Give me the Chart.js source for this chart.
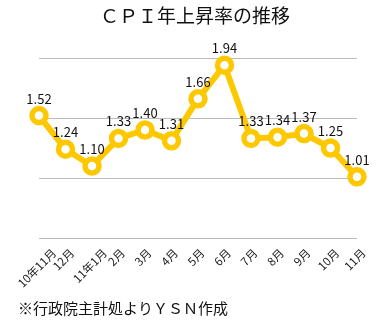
<!DOCTYPE html>
<html><head><meta charset="utf-8">
<script src="https://cdn.jsdelivr.net/npm/chart.js@4"></script>
<style>html,body{margin:0;padding:0;background:#fff}#wrap{width:391px;height:322px}</style>
</head><body><div id="wrap"><canvas id="c"></canvas></div>
<script>
const categories = ["10年11月","12月","11年1月","2月","3月","4月","5月","6月","7月","8月","9月","10月","11月"];
const cpiValues = [1.52,1.24,1.10,1.33,1.40,1.31,1.66,1.94,1.33,1.34,1.37,1.25,1.01];
const yTicks = [0.5,1.0,1.5,2.0];
const titleText = "ＣＰＩ年上昇率の推移";
const footerText = "※行政院主計処よりＹＳＮ作成";

const FONT = "'Noto Sans CJK JP', 'Noto Sans', sans-serif";
const gold = "#FDC800";

const decorations = {
  id: 'decorations',
  afterDraw(chart) {
    const ctx = chart.ctx;
    ctx.save();
    ctx.fillStyle = "#111";
    ctx.textBaseline = "middle";
    ctx.font = "19px " + FONT;
    ctx.textAlign = "center";
    ctx.fillText(titleText, 195, 16);
    ctx.font = "15px " + FONT;
    ctx.textAlign = "left";
    ctx.fillText(footerText, 18, 308);
    // rotated category labels, centred under their ticks
    const xs = chart.scales.x;
    ctx.font = "11.5px " + FONT;
    ctx.fillStyle = "#222";
    ctx.textAlign = "center";
    categories.forEach((lab, i) => {
      const x = xs.getPixelForTick(i);
      const w = ctx.measureText(lab).width;
      const cy = chart.chartArea.bottom + 9 + (w + 11) * 0.7071 / 2;
      ctx.save();
      ctx.translate(x - 2, cy);
      ctx.rotate(-Math.PI / 4);
      ctx.fillText(lab, 0, 0);
      ctx.restore();
    });
    ctx.restore();
  },
  afterDatasetsDraw(chart) {
    const ctx = chart.ctx;
    const meta = chart.getDatasetMeta(0);
    ctx.save();
    ctx.font = "13px " + FONT;
    ctx.fillStyle = "#111";
    ctx.textAlign = "center";
    ctx.textBaseline = "middle";
    meta.data.forEach((pt, i) => {
      ctx.fillText(cpiValues[i].toFixed(2), pt.x, pt.y - 17);
    });
    ctx.restore();
  }
};

new Chart(document.getElementById('c'), {
  type: 'line',
  data: {
    labels: categories,
    datasets: [{
      data: cpiValues,
      borderColor: gold,
      borderWidth: 6,
      pointRadius: 7,
      pointBorderWidth: 5.5,
      pointBackgroundColor: "#fff",
      pointBorderColor: gold,
      tension: 0,
      clip: false
    }]
  },
  options: {
    responsive: true,
    maintainAspectRatio: false,
    animation: false,
    layout: { padding: { left: 4, right: 34, top: 58, bottom: 0 } },
    plugins: {
      legend: { display: false },
      tooltip: { enabled: false },
      title: { display: false }
    },
    scales: {
      x: {
        offset: false,
        grid: { display: false },
        border: { display: false },
        afterFit(axis) { axis.height = 84; },
        ticks: { display: false }
      },
      y: {
        min: yTicks[0], max: yTicks[yTicks.length - 1],
        afterBuildTicks(axis) { axis.ticks = yTicks.map(v => ({ value: v })); },
        afterFit(axis) { axis.width = 35; },
        grid: { color: "#BBBBBB", lineWidth: 1, drawTicks: false },
        border: { display: false },
        ticks: { display: false }
      }
    }
  },
  plugins: [decorations]
});
</script>
</body></html>
